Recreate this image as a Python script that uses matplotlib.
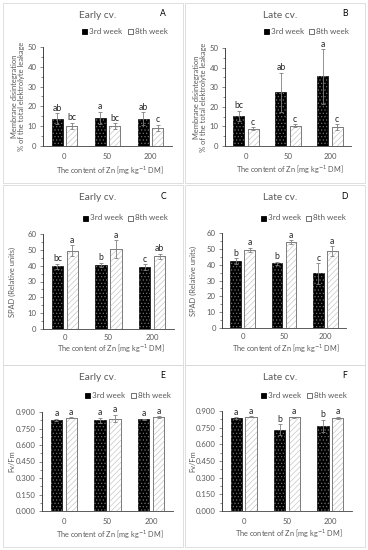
import matplotlib.pyplot as plt
import matplotlib.ticker as mticker
from matplotlib.patches import Rectangle
import numpy as np

plt.rcParams['font.family'] = ['Lato', 'DejaVu Sans']
plt.rcParams['hatch.linewidth'] = 0.5

# ---- data ----
zn_levels = ['0', '50', '200']
series_names = ['3rd week', '8th week']

# membrane disintegration (% of total elektrolyte leakage)
memb_early_3 = [13.8, 14.2, 13.8]
memb_early_3_err = [2.7, 3.1, 3.4]
memb_early_8 = [10.3, 10.0, 9.2]
memb_early_8_err = [1.5, 1.6, 1.6]
memb_early_let3 = ['ab', 'a', 'ab']
memb_early_let8 = ['bc', 'bc', 'c']

memb_late_3 = [15.5, 27.3, 35.5]
memb_late_3_err = [2.5, 10.0, 14.0]
memb_late_8 = [8.8, 10.3, 9.6]
memb_late_8_err = [0.8, 0.8, 1.5]
memb_late_let3 = ['bc', 'ab', 'a']
memb_late_let8 = ['c', 'c', 'c']

# SPAD
spad_early_3 = [39.5, 40.5, 39.0]
spad_early_3_err = [1.8, 1.3, 1.8]
spad_early_8 = [49.5, 50.5, 45.8]
spad_early_8_err = [3.5, 5.5, 1.8]
spad_early_let3 = ['bc', 'b', 'c']
spad_early_let8 = ['a', 'a', 'ab']

spad_late_3 = [42.2, 40.8, 34.5]
spad_late_3_err = [2.0, 1.0, 6.5]
spad_late_8 = [49.5, 54.3, 48.7]
spad_late_8_err = [1.2, 1.0, 3.0]
spad_late_let3 = ['b', 'b', 'c']
spad_late_let8 = ['a', 'a', 'a']

# Fv/Fm
fvfm_early_3 = [0.830, 0.825, 0.833]
fvfm_early_3_err = [0.008, 0.025, 0.005]
fvfm_early_8 = [0.848, 0.840, 0.855]
fvfm_early_8_err = [0.005, 0.035, 0.005]
fvfm_early_let3 = ['a', 'a', 'a']
fvfm_early_let8 = ['a', 'a', 'a']

fvfm_late_3 = [0.835, 0.730, 0.765]
fvfm_late_3_err = [0.010, 0.050, 0.055]
fvfm_late_8 = [0.850, 0.845, 0.840]
fvfm_late_8_err = [0.003, 0.005, 0.008]
fvfm_late_let3 = ['a', 'b', 'b']
fvfm_late_let8 = ['a', 'a', 'a']

W, H = 368, 550
fig = plt.figure(figsize=(W / 100, H / 100), dpi=100)
fig.patch.set_facecolor('white')

GRAY = '#595959'


def fx(x):
    return x / W


def fy(y):
    return 1 - y / H


def panel(box, axrect, title, letter, legend_y, legend_x, ylabel, ylab_x,
          xlab_y, xpad, ymax, ystep, fmt, d3, e3, d8, e8, l3, l8):
    # panel frame
    x0, y0, x1, y1 = box
    fig.patches.append(Rectangle((fx(x0), fy(y1)), fx(x1 - x0), (y1 - y0) / H,
                                 transform=fig.transFigure, fill=False,
                                 edgecolor='#d9d9d9', lw=0.6))
    fig.text(fx((x0 + x1) / 2 + 5), fy(y0 + 12), title, fontsize=7.3,
             color=GRAY, ha='center', va='center')
    fig.text(fx(x1 - 20), fy(y0 + 11), letter, fontsize=6.2, color='black',
             ha='center', va='center')
    # legend
    lx1, lx2 = legend_x
    for lx, name, fc, ec in [(lx1, series_names[0], 'black', 'black'),
                             (lx2, series_names[1], 'white', GRAY)]:
        fig.patches.append(Rectangle((fx(lx - 2.5), fy(legend_y + 2.5)), fx(5), 5 / H,
                                     transform=fig.transFigure, facecolor=fc,
                                     edgecolor=ec, lw=0.6))
        fig.text(fx(lx + 5), fy(legend_y), name, fontsize=5.8, color=GRAY,
                 ha='left', va='center')

    l, t, r, b = axrect
    ax = fig.add_axes([fx(l), fy(b), fx(r - l), (b - t) / H])
    x = np.arange(len(zn_levels))
    off, w = 0.17, 0.26
    ax.bar(x - off, d3, w, color='black', edgecolor='black', lw=0.5, zorder=2)
    ax.bar(x - off, d3, w, fill=False, hatch='.....', edgecolor='#707070',
           lw=0, zorder=3)
    ax.bar(x + off, d8, w, color='white', edgecolor=GRAY, lw=0.6, zorder=2)
    ax.bar(x + off, d8, w, fill=False, hatch='//////', edgecolor='#c8c8c8',
           lw=0, zorder=3)
    ax.bar(x + off, d8, w, fill=False, edgecolor='#808080', lw=0.6, zorder=3)
    ax.errorbar(x - off, d3, yerr=e3, fmt='none', ecolor='#808080',
                elinewidth=0.6, capsize=1.5, capthick=0.6, zorder=4)
    ax.errorbar(x + off, d8, yerr=e8, fmt='none', ecolor='#808080',
                elinewidth=0.6, capsize=1.5, capthick=0.6, zorder=4)
    for xi, v, e, s in zip(x - off, d3, e3, l3):
        ax.annotate(s, (xi, v + e), xytext=(0, 0.3), textcoords='offset points',
                    ha='center', va='bottom', fontsize=6.2, color='#262626')
    for xi, v, e, s in zip(x + off, d8, e8, l8):
        ax.annotate(s, (xi, v + e), xytext=(0, 0.3), textcoords='offset points',
                    ha='center', va='bottom', fontsize=6.2, color='#262626')

    ax.set_xlim(-0.5, 2.5)
    ax.set_ylim(0, ymax)
    ax.set_xticks(x)
    ax.set_xticklabels(zn_levels)
    ax.yaxis.set_major_locator(mticker.MultipleLocator(ystep))
    ax.yaxis.set_minor_locator(mticker.MultipleLocator(ystep / 2))
    ax.yaxis.set_major_formatter(mticker.FormatStrFormatter(fmt))
    ax.tick_params(axis='y', labelsize=5.6, colors=GRAY, length=2.5,
                   width=0.5, pad=2, direction='out')
    ax.tick_params(axis='y', which='minor', length=1.5, width=0.5, color=GRAY)
    ax.tick_params(axis='x', labelsize=5.6, colors=GRAY, length=0, pad=xpad)
    for s in ['top', 'right']:
        ax.spines[s].set_visible(False)
    ax.spines['left'].set_color('#262626')
    ax.spines['bottom'].set_color('#404040')
    ax.spines['left'].set_linewidth(0.6)
    ax.spines['bottom'].set_linewidth(0.6)
    ax.set_facecolor('none')

    fig.text(fx(ylab_x), fy((t + b) / 2), ylabel, rotation=90, fontsize=5.4,
             color=GRAY, ha='center', va='center', linespacing=1.1)
    fig.text(fx((l + r) / 2 + 2), fy(xlab_y),
             'The content of Zn [mg kg$^{-1}$ DM]', fontsize=5.3, color=GRAY,
             ha='center', va='center')
    return ax


memb_label = 'Membrane disintegration\n% of the total elektrolyte leakage'

panel((3, 3, 183, 183), (43, 47, 172, 146), 'Early cv.', 'A', 31, (84, 130),
      memb_label, 18, 170, 5, 50, 10, '%d',
      memb_early_3, memb_early_3_err, memb_early_8, memb_early_8_err,
      memb_early_let3, memb_early_let8)
panel((185, 3, 365, 183), (225, 48, 351, 146), 'Late cv.', 'B', 31, (266, 311),
      memb_label, 200, 169, 5, 50, 10, '%d',
      memb_late_3, memb_late_3_err, memb_late_8, memb_late_8_err,
      memb_late_let3, memb_late_let8)
panel((3, 185, 183, 365), (43, 234, 174, 329), 'Early cv.', 'C', 218, (85, 130),
      'SPAD (Relative units)', 12, 348.5, 3.5, 60, 10, '%d',
      spad_early_3, spad_early_3_err, spad_early_8, spad_early_8_err,
      spad_early_let3, spad_early_let8)
panel((185, 185, 365, 365), (222, 233, 346, 328), 'Late cv.', 'D', 218, (263, 308),
      'SPAD (Relative units)', 193, 348.5, 3.5, 60, 10, '%d',
      spad_late_3, spad_late_3_err, spad_late_8, spad_late_8_err,
      spad_late_let3, spad_late_let8)
panel((3, 365, 183, 547), (42, 412, 173, 511), 'Early cv.', 'E', 395, (87, 133),
      'Fv/Fm', 12, 534, 5, 0.9, 0.15, '%.3f',
      fvfm_early_3, fvfm_early_3_err, fvfm_early_8, fvfm_early_8_err,
      fvfm_early_let3, fvfm_early_let8)
panel((185, 365, 365, 547), (222, 411, 352, 511), 'Late cv.', 'F', 395, (263, 309),
      'Fv/Fm', 193, 533, 5, 0.9, 0.15, '%.3f',
      fvfm_late_3, fvfm_late_3_err, fvfm_late_8, fvfm_late_8_err,
      fvfm_late_let3, fvfm_late_let8)

fig.savefig('out.png', dpi=100)
